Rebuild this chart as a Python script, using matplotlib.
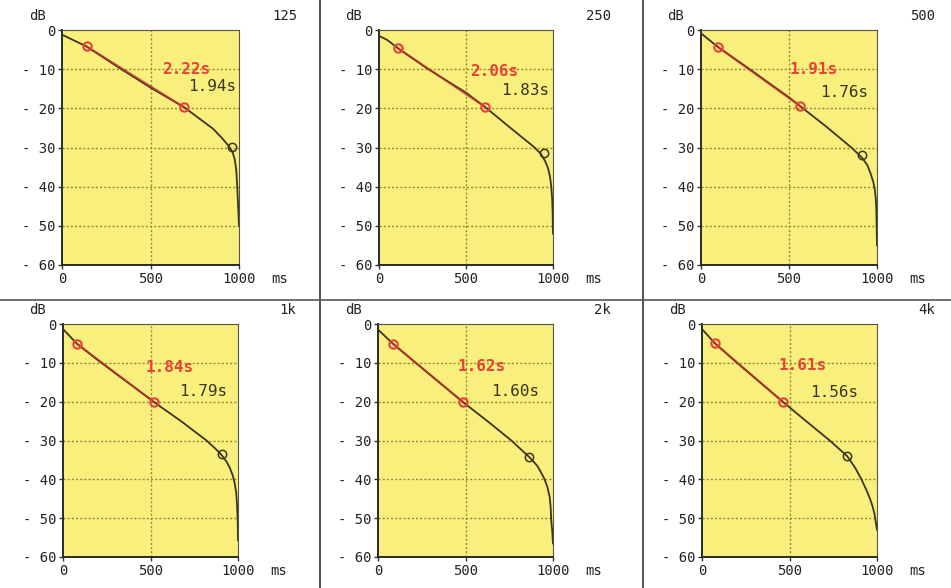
import matplotlib
matplotlib.use('Agg')
import matplotlib.pyplot as plt
from matplotlib.lines import Line2D

# octave band labels and reverberation times
bands = ['125', '250', '500', '1k', '2k', '4k']
t20_labels = ['2.22s', '2.06s', '1.91s', '1.84s', '1.62s', '1.61s']
t30_labels = ['1.94s', '1.83s', '1.76s', '1.79s', '1.60s', '1.56s']

# decay curves (ms, dB)
decay_ms = [
    [0, 139, 328, 500, 689, 853, 900, 940, 962, 976, 985, 990, 994, 997, 1000],
    [4, 46, 107, 276, 500, 611, 750, 889, 930, 955, 971, 983, 990, 995, 998, 1000],
    [4, 98, 270, 500, 565, 710, 854, 915, 945, 965, 980, 987, 993, 996, 998, 1000],
    [4, 80, 213, 500, 520, 680, 820, 880, 911, 935, 953, 970, 981, 990, 994, 998, 1000],
    [4, 86, 210, 488, 625, 762, 863, 910, 935, 952, 968, 981, 987, 990, 995, 1000],
    [4, 72, 195, 461, 600, 730, 829, 875, 911, 940, 960, 975, 986, 993, 1000],
]
decay_db = [
    [-1.2, -4.2, -9.8, -14.7, -19.7, -25.2, -27.4, -29.5, -31.0, -33.0, -36.0, -40.0, -44.0, -47.0, -50.0],
    [-1.6, -2.5, -4.6, -9.8, -16.0, -19.7, -24.8, -29.8, -31.6, -33.5, -35.2, -37.5, -40.0, -43.0, -46.8, -52.0],
    [-1.0, -4.4, -9.8, -17.2, -19.5, -24.6, -30.0, -32.6, -34.5, -36.8, -39.0, -40.6, -43.0, -45.7, -50.0, -55.0],
    [-1.5, -5.1, -9.8, -19.4, -20.1, -25.2, -30.0, -32.5, -34.0, -35.5, -37.0, -39.0, -41.0, -43.5, -46.2, -50.0, -55.7],
    [-1.6, -5.1, -9.8, -20.2, -25.0, -30.0, -34.2, -36.5, -38.5, -40.0, -42.0, -44.5, -47.5, -50.5, -53.0, -56.5],
    [-1.5, -4.9, -9.8, -20.0, -25.2, -30.0, -34.0, -37.0, -40.0, -42.8, -45.0, -47.0, -49.0, -51.0, -53.0],
]

# evaluation points: -5/-20 dB (red) and the end point (dark)
red_ms = [[139, 689], [107, 611], [98, 565], [80, 520], [86, 488], [72, 461]]
red_db = [[-4.2, -19.7], [-4.6, -19.7], [-4.4, -19.5], [-5.1, -20.1], [-5.1, -20.2], [-4.9, -20.0]]
end_ms = [962, 947, 915, 911, 863, 829]
end_db = [-29.8, -31.3, -32.0, -33.5, -34.2, -34.0]

yticks = [0, -10, -20, -30, -40, -50, -60]
ytick_labels = ['0', '- 10', '- 20', '- 30', '- 40', '- 50', '- 60']
xticks = [0, 500, 1000]
xtick_labels = ['0', '500', '1000']

W, H = 951, 588
# axes boxes in pixels: left, top, right, bottom
boxes = [
    (62, 30, 239, 265), (379, 30, 553, 265), (701, 30, 877, 265),
    (63, 324, 238, 557), (378, 324, 553, 557), (702, 324, 877, 557),
]
# text centres for the two RT values (data coords)
t20_pos = [(700, -10), (661, -10.5), (642, -10), (608, -11.3), (591, -11), (574, -10.6)]
t30_pos = [(848, -14.5), (839, -15.5), (812, -16), (800, -17.5), (783, -17.5), (754, -17.7)]

FONT = 'DejaVu Sans Mono'
YELLOW = '#f8ef7c'
GRID = '#9a8838'
CURVE = '#3d3520'
RED = '#e8403a'
TXT = '#222222'

fig = plt.figure(figsize=(W / 100, H / 100), dpi=100)
fig.patch.set_facecolor('white')

for i in range(6):
    l, t, r, b = boxes[i]
    ax = fig.add_axes([l / W, 1 - b / H, (r - l) / W, (b - t) / H])
    ax.set_facecolor(YELLOW)
    ax.set_xlim(0, 1000)
    ax.set_ylim(-60, 0)

    ax.set_xticks(xticks)
    ax.set_xticklabels(xtick_labels, fontfamily=FONT, fontsize=10, color=TXT)
    ax.set_yticks(yticks)
    ax.set_yticklabels(ytick_labels, fontfamily=FONT, fontsize=10, color=TXT)
    ax.tick_params(length=3, width=1, color='#333333', pad=2)

    for y in yticks[1:-1]:
        ax.axhline(y, color=GRID, lw=1.0, ls=(0, (1.5, 1.5)), zorder=1)
    ax.axvline(500, color=GRID, lw=1.0, ls=(0, (1.5, 1.5)), zorder=1)

    for side in ['left', 'bottom']:
        ax.spines[side].set_color('#2a2a2a')
        ax.spines[side].set_linewidth(1.4)
    for side in ['top', 'right']:
        ax.spines[side].set_color('#555544')
        ax.spines[side].set_linewidth(0.8)

    ax.plot(decay_ms[i], decay_db[i], color=CURVE, lw=1.3, zorder=3)
    ax.plot(red_ms[i], red_db[i], color='#c0302a', lw=1.4, alpha=0.8, zorder=4)
    ax.plot(red_ms[i], red_db[i], 'o', ms=6, mfc='none', mec=RED, mew=1.5, zorder=5)
    ax.plot(end_ms[i], end_db[i], 'o', ms=6, mfc='none', mec=CURVE, mew=1.1, zorder=5)

    ax.text(t20_pos[i][0], t20_pos[i][1], t20_labels[i], color=RED, fontfamily=FONT,
            fontsize=11.5, fontweight='bold', ha='center', va='center', zorder=6)
    ax.text(t30_pos[i][0], t30_pos[i][1], t30_labels[i], color='#3a3520', fontfamily=FONT,
            fontsize=11.5, ha='center', va='center', zorder=6)

    # unit labels and band name
    fig.text((l - 25) / W, 1 - (t - 14) / H, 'dB', fontfamily=FONT, fontsize=10,
             color=TXT, ha='center', va='center')
    fig.text((r + 41) / W, 1 - (b + 14) / H, 'ms', fontfamily=FONT, fontsize=10,
             color=TXT, ha='center', va='center')
    fig.text((r + 58) / W, 1 - (t - 14) / H, bands[i], fontfamily=FONT, fontsize=10,
             color=TXT, ha='right', va='center')

# panel separators
fig.add_artist(Line2D([320 / W, 320 / W], [0, 1], color='#333333', lw=1.2))
fig.add_artist(Line2D([643 / W, 643 / W], [0, 1], color='#333333', lw=1.2))
fig.add_artist(Line2D([0, 1], [1 - 300 / H, 1 - 300 / H], color='#555555', lw=1.2))

fig.savefig('out.png', dpi=100)
